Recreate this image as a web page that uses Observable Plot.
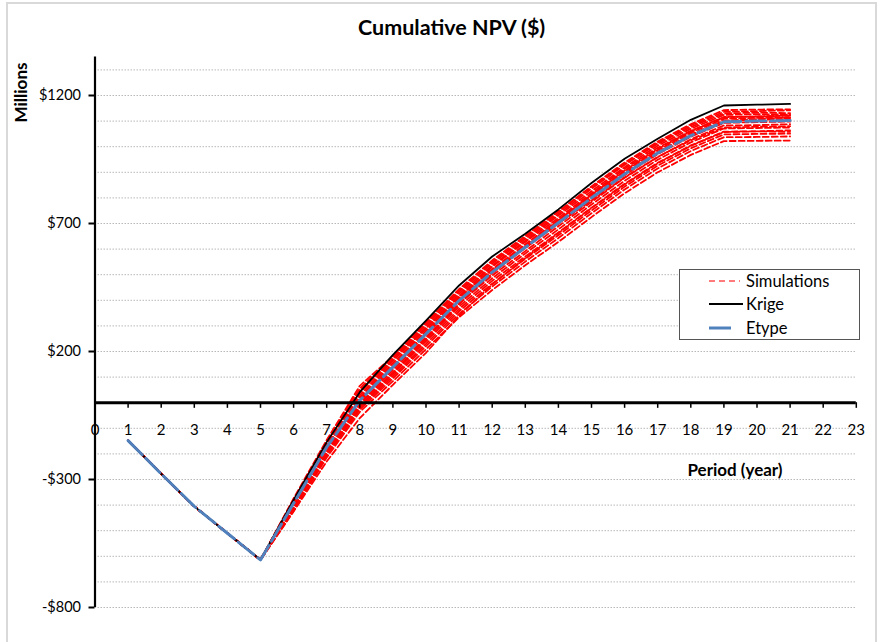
<!DOCTYPE html>
<html>
<head>
<meta charset="utf-8">
<script src="https://cdn.jsdelivr.net/npm/d3@7"></script>
<script src="https://cdn.jsdelivr.net/npm/@observablehq/plot@0.6"></script>
<style>
  body { margin: 0; background: #fff; font-family: Lato, "Open Sans", sans-serif; }
  #wrap { position: relative; width: 881px; height: 642px; overflow: hidden; background: #fff; }
  #frame { position: absolute; left: 6px; top: 2px; width: 871px; height: 670px; border: 2px solid #d9d9d9; box-sizing: border-box; pointer-events: none; }
  #legend { position: absolute; left: 679px; top: 269px; width: 181px; height: 71px; border: 1px solid #555; background: #fff; box-sizing: border-box; font-size: 16.5px; color: #000; }
  .row { position: absolute; left: 0; height: 20px; }
  .row svg { position: absolute; left: 28px; top: 7px; }
  .row span { position: absolute; left: 66px; top: 0; line-height: 20px; white-space: nowrap; }
</style>
</head>
<body>
<div id="wrap">
  <div id="chart"></div>
  <div id="frame"></div>
  <div id="legend">
    <div class="row" style="top:1px"><svg width="34" height="6"><line x1="1" y1="3" x2="32" y2="3" stroke="#ff5050" stroke-width="1.6" stroke-dasharray="6,4"/></svg><span>Simulations</span></div>
    <div class="row" style="top:24px"><svg width="36" height="6"><line x1="1" y1="3" x2="35" y2="3" stroke="#000" stroke-width="1.8"/></svg><span>Krige</span></div>
    <div class="row" style="top:48px"><svg width="36" height="6"><line x1="1" y1="3" x2="23" y2="3" stroke="#4f81bd" stroke-width="3"/></svg><span>Etype</span></div>
  </div>
</div>
<script>
// ---- data ----
const periods = [1,2,3,4,5,6,7,8,9,10,11,12,13,14,15,16,17,18,19,20,21];
// common values for periods 1-5 (all simulations coincide)
const basePeriods1to5 = [-148, -278, -405, -510, -614];
// simulation values for periods 6..21
const sim01 = [-374, -146, 66, 182, 315, 444, 556, 652, 748, 845, 938, 1020, 1088, 1143, 1145, 1146];
const sim02 = [-378, -150, 55, 180, 310, 438, 550, 646, 744, 843, 932, 1015, 1083, 1136, 1139, 1142];
const sim03 = [-380, -152, 48, 176, 303, 433, 544, 640, 737, 836, 929, 1011, 1077, 1130, 1133, 1131];
const sim04 = [-383, -157, 40, 170, 296, 426, 536, 633, 731, 826, 920, 1004, 1070, 1124, 1127, 1125];
const sim05 = [-386, -160, 30, 162, 290, 418, 531, 628, 722, 818, 914, 996, 1062, 1116, 1118, 1121];
const sim06 = [-389, -166, 22, 154, 281, 411, 522, 619, 715, 812, 905, 987, 1055, 1109, 1113, 1112];
const sim07 = [-391, -171, 15, 145, 274, 404, 515, 612, 708, 805, 898, 980, 1048, 1102, 1105, 1107];
const sim08 = [-395, -176, 7, 136, 266, 396, 507, 604, 699, 796, 889, 971, 1039, 1093, 1096, 1098];
const sim09 = [-398, -183, -2, 129, 256, 387, 497, 592, 689, 784, 879, 959, 1029, 1083, 1084, 1088];
const sim10 = [-404, -188, -7, 120, 248, 376, 486, 583, 677, 774, 867, 949, 1017, 1071, 1073, 1075];
const sim11 = [-407, -195, -15, 111, 240, 366, 476, 571, 665, 762, 855, 937, 1005, 1059, 1060, 1064];
const sim12 = [-413, -200, -20, 103, 230, 357, 465, 562, 654, 751, 844, 926, 994, 1048, 1050, 1051];
const sim13 = [-417, -206, -27, 95, 221, 347, 454, 551, 643, 740, 833, 915, 983, 1037, 1038, 1040];
const sim14 = [-423, -214, -36, 84, 209, 334, 440, 537, 628, 725, 818, 900, 968, 1022, 1023, 1024];
const sim15 = [-425, -230, -60, 70, 195, 340, 462, 565, 662, 760, 852, 935, 1003, 1057, 1060, 1058];
const sim16 = [-381, -156, 45, 168, 290, 415, 520, 610, 700, 790, 880, 960, 1025, 1075, 1078, 1080];
const sim17 = [-411, -197, -18, 115, 250, 385, 505, 610, 712, 812, 907, 991, 1060, 1115, 1118, 1122];
const sim18 = [-392, -170, 12, 142, 272, 402, 512, 609, 705, 802, 896, 978, 1046, 1100, 1108, 1115];
const etype = [-148, -278, -405, -510, -614, -393, -174, 9, 139, 269, 399, 510, 607, 703, 800, 893, 975, 1043, 1097, 1100, 1102];
const krige = [-148, -278, -405, -510, -614, -380, -154, 41, 187, 321, 458, 571, 660, 755, 858, 953, 1031, 1105, 1161, 1164, 1167];
const yTicks = [-800, -300, 200, 700, 1200];
const gridValues = [-800,-700,-600,-500,-400,-300,-200,-100,100,200,300,400,500,600,700,800,900,1000,1100,1200,1300];
const xTicks = [0,1,2,3,4,5,6,7,8,9,10,11,12,13,14,15,16,17,18,19,20,21,22,23];

const simulations = [sim01, sim02, sim03, sim04, sim05, sim06, sim07, sim08, sim09, sim10, sim11, sim12, sim13, sim14, sim15, sim16, sim17, sim18];
const simData = [];
simulations.forEach((s, i) => {
  periods.forEach((p, j) => {
    simData.push({sim: i, period: p, value: j < 5 ? basePeriods1to5[j] : s[j - 5]});
  });
});
const etypeData = periods.map((p, j) => ({period: p, value: etype[j]}));
const krigeData = periods.map((p, j) => ({period: p, value: krige[j]}));
const fmt = d => d < 0 ? `-$${-d}` : `$${d}`;

const chart = Plot.plot({
  width: 881,
  height: 642,
  marginLeft: 94.5,
  marginRight: 25.2,
  marginTop: 56.6,
  marginBottom: 35,
  x: {domain: [0, 23], axis: null},
  y: {domain: [-800, 1350], axis: null},
  style: {fontFamily: "Lato, 'Open Sans', sans-serif", background: "transparent", color: "#000"},
  marks: [
    Plot.ruleY(gridValues, {stroke: "#b8b8b8", strokeWidth: 1, strokeDasharray: "1.5,1.5"}),
    Plot.axisY({ticks: yTicks, tickFormat: fmt, tickSize: 6, tickPadding: 8, fontSize: 14.5, strokeWidth: 2, color: "#000", label: null}),
    Plot.line(simData, {x: "period", y: "value", z: "sim", stroke: "#ff0000", strokeWidth: 1.8, strokeDasharray: "6,3"}),
    Plot.line(krigeData, {x: "period", y: "value", stroke: "#000", strokeWidth: 1.8}),
    Plot.line(etypeData, {x: "period", y: "value", stroke: "#4f81bd", strokeWidth: 3, strokeDasharray: "20,5"}),
    Plot.ruleX([0], {stroke: "#000", strokeWidth: 2.2}),
    Plot.ruleY([0], {stroke: "#000", strokeWidth: 3}),
    Plot.ruleX(xTicks.filter(d => d > 0), {x: d => d, y1: 0, y2: -22, stroke: "#000", strokeWidth: 1.5}),
    Plot.text(xTicks, {x: d => d, y: 0, dy: 27, text: d => String(d), fontSize: 15, fill: "#000"}),
    Plot.text(["Cumulative NPV ($)"], {frameAnchor: "top", dx: -24, dy: -28.6, lineAnchor: "middle", fontWeight: "bold", fontSize: 21.5, fill: "#000"}),
    Plot.text(["Millions"], {frameAnchor: "top-left", dx: -73.5, dy: 35.4, rotate: -90, textAnchor: "middle", lineAnchor: "middle", fontWeight: "bold", fontSize: 17, fill: "#000"}),
    Plot.text(["Period (year)"], {frameAnchor: "top-left", dx: 640, dy: 413.4, textAnchor: "middle", lineAnchor: "middle", fontWeight: "bold", fontSize: 17, fill: "#000"})
  ]
});
document.getElementById("chart").appendChild(chart);
</script>
</body>
</html>
